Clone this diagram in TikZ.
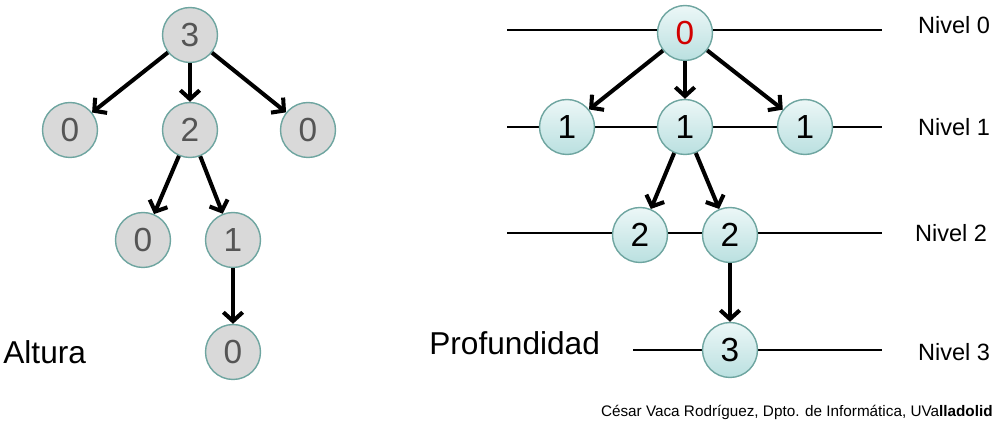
\documentclass[tikz,border=0pt]{standalone}
\usepackage{fontspec}
\setmainfont{Liberation Sans}
\usetikzlibrary{arrows.meta,positioning}
\definecolor{NodeGray}{RGB}{217,217,217}
\definecolor{NodeEdge}{RGB}{110,165,160}
\definecolor{DigitGray}{RGB}{85,85,85}
\definecolor{AquaTop}{RGB}{236,247,247}
\definecolor{AquaBot}{RGB}{186,224,224}
\definecolor{RootRed}{RGB}{210,0,0}

\tikzset{
  altnode/.style={circle,draw=NodeEdge,line width=0.8pt,fill=NodeGray,
    minimum size=1.1cm,inner sep=0pt,text=DigitGray,font=\fontsize{19}{19}\selectfont},
  profnode/.style={circle,draw=NodeEdge,line width=0.8pt,top color=AquaTop,
    bottom color=AquaBot,minimum size=1.1cm,inner sep=0pt,text=black,
    font=\fontsize{19}{19}\selectfont},
  arr/.style={-{Straight Barb[length=5pt,width=11pt]},line width=2.3pt},
  nivline/.style={line width=0.8pt},
  nivlabel/.style={font=\fontsize{13.4}{14}\selectfont},
  bigtitle/.style={font=\fontsize{18}{20}\selectfont,inner sep=0pt}
}

\begin{document}
\begin{tikzpicture}[x=0.02cm,y=-0.02cm]
  \useasboundingbox (0,0) rectangle (998,425);

  % level lines (behind the nodes)
  \coordinate (l0a) at (507,30);  \coordinate (l0b) at (882,30);
  \coordinate (l1a) at (507,127); \coordinate (l1b) at (882,127);
  \coordinate (l2a) at (507,233); \coordinate (l2b) at (882,233);
  \coordinate (l3a) at (633,350); \coordinate (l3b) at (882,350);
  \draw[nivline] (l0a)--(l0b);
  \draw[nivline] (l1a)--(l1b);
  \draw[nivline] (l2a)--(l2b);
  \draw[nivline] (l3a)--(l3b);

  % altura
  \node[altnode] (h3)  at (190,35)  {3};
  \node[altnode] (h0a) at (70,130)  {0};
  \node[altnode] (h2)  at (190,130) {2};
  \node[altnode] (h0b) at (308,130) {0};
  \node[altnode] (h0c) at (143,240) {0};
  \node[altnode] (h1)  at (233,240) {1};
  \node[altnode] (h0d) at (233,352) {0};
  \draw[arr] (h3)--(h0a);
  \draw[arr] (h3)--(h2);
  \draw[arr] (h3)--(h0b);
  \draw[arr] (h2)--(h0c);
  \draw[arr] (h2)--(h1);
  \draw[arr] (h1)--(h0d);

  % profundidad
  \node[profnode,text=RootRed] (p0) at (685,33) {0};
  \node[profnode] (p1a) at (567,127) {1};
  \node[profnode] (p1b) at (685,127) {1};
  \node[profnode] (p1c) at (805,127) {1};
  \node[profnode] (p2a) at (640,235) {2};
  \node[profnode] (p2b) at (730,235) {2};
  \node[profnode] (p3)  at (730,350) {3};
  \draw[arr] (p0)--(p1a);
  \draw[arr] (p0)--(p1b);
  \draw[arr] (p0)--(p1c);
  \draw[arr] (p1b)--(p2a);
  \draw[arr] (p1b)--(p2b);
  \draw[arr] (p2b)--(p3);

  \node[nivlabel] (n0) at (954,25)  {Nivel 0};
  \node[nivlabel] (n1) at (954,127) {Nivel 1};
  \node[nivlabel] (n2) at (951,233) {Nivel 2};
  \node[nivlabel] (n3) at (954,352) {Nivel 3};

  \node[bigtitle,anchor=west] (alt) at (3,352) {Altura};
  \node[bigtitle,anchor=west] (prof) at (429,343) {Profundidad};

  \node[anchor=east,inner sep=0pt,font=\fontsize{8.7}{10}\selectfont] (pie) at (993,412)
    {César Vaca Rodríguez, Dpto. de Informática, UVa\textbf{lladolid}};
\end{tikzpicture}
\end{document}
